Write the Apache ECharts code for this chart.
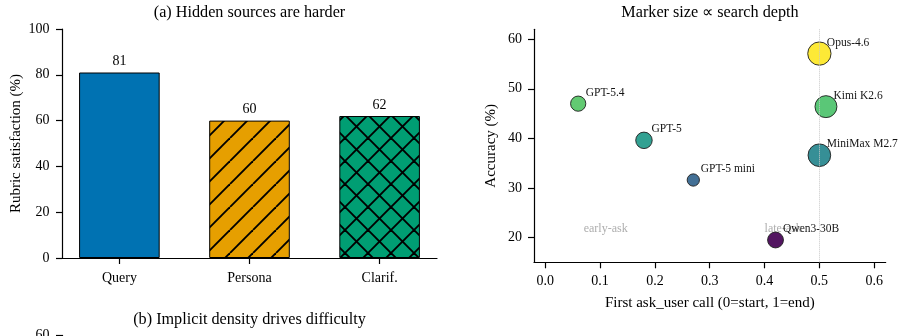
<!DOCTYPE html>
<html>
<head>
<meta charset="utf-8">
<script src="https://cdn.jsdelivr.net/npm/echarts@6/dist/echarts.min.js"></script>
<style>
  html, body { margin: 0; padding: 0; background: #fff; }
  #chart { width: 905px; height: 336px; }
</style>
</head>
<body>
<div id="chart"></div>
<script>
// ---------- data ----------
const barCategories = ['Query', 'Persona', 'Clarif.'];
const barValues = [81, 60, 62];
const barTicks = [0, 20, 40, 60, 80, 100];

const modelNames = ['Opus-4.6', 'Kimi K2.6', 'MiniMax M2.7', 'GPT-5.4', 'GPT-5', 'GPT-5 mini', 'Qwen3-30B'];
const firstAsk = [0.50, 0.512, 0.50, 0.06, 0.18, 0.27, 0.42];
const accuracy = [57.1, 46.4, 36.6, 47.0, 39.6, 31.6, 19.5];
const searchDepth = [54, 48, 51, 23, 27, 15, 25];
const scatterXTicks = [0.0, 0.1, 0.2, 0.3, 0.4, 0.5, 0.6];
const scatterYTicks = [20, 30, 40, 50, 60];
const regionNotes = [['early-ask', 0.07, 21.7], ['late-ask', 0.40, 21.7]];
const splitX = 0.5;

const panelBTicks = [0, 20, 40, 60];

// ---------- styling helpers ----------
const FONT = "'Liberation Serif', 'Times New Roman', serif";
const viridis = ['#440154', '#482475', '#414487', '#355f8d', '#2a788e', '#21918c',
                 '#22a884', '#44bf70', '#7ad151', '#bddf26', '#fde725'];

function hatch(bg, cross, s) {
  const c = document.createElement('canvas');
  c.width = s; c.height = s;
  const g = c.getContext('2d');
  g.fillStyle = bg; g.fillRect(0, 0, s, s);
  g.strokeStyle = '#000'; g.lineWidth = 1.9;
  for (const k of [-s, 0, s]) {
    g.beginPath(); g.moveTo(k, s); g.lineTo(k + s, 0); g.stroke();
    if (cross) { g.beginPath(); g.moveTo(k, 0); g.lineTo(k + s, s); g.stroke(); }
  }
  return c;
}
const barFills = [
  '#0072b2',
  { image: hatch('#e69f00', false, 23), repeat: 'repeat' },
  { image: hatch('#009e73', true, 23), repeat: 'repeat' }
];

const axisLineStyle = { color: '#000', width: 1.2 };
const tickLbl = { color: '#000', fontFamily: FONT, fontSize: 14 };
const nameStyle = { color: '#000', fontFamily: FONT, fontSize: 15 };
const titleStyle = { fontFamily: FONT, fontSize: 16.2, fontWeight: 'normal', color: '#000' };

const chart = echarts.init(document.getElementById('chart'), null, { renderer: 'canvas' });

const option = {
  backgroundColor: '#fff',
  animation: false,
  title: [
    { text: '(a) Hidden sources are harder', left: 249.5, top: 5, padding: 0, textAlign: 'center', textStyle: titleStyle },
    { text: 'Marker size \u221d search depth', left: 710, top: 5, padding: 0, textAlign: 'center', textStyle: titleStyle },
    { text: '(b) Implicit density drives difficulty', left: 249.5, top: 311.5, padding: 0, textAlign: 'center', textStyle: titleStyle }
  ],
  grid: [
    { left: 62, top: 29, width: 375, height: 229, containLabel: false },
    { left: 534, top: 29.3, width: 351.7, height: 233, containLabel: false },
    { left: 62, top: 335.3, width: 375, height: 229, containLabel: false }
  ],
  xAxis: [
    { gridIndex: 0, type: 'value', min: -0.441, max: 2.441,
      axisLine: { show: true, onZero: false, lineStyle: axisLineStyle },
      axisTick: { show: true, length: 6, lineStyle: axisLineStyle, customValues: [0, 1, 2] },
      axisLabel: Object.assign({ margin: 13, customValues: [0, 1, 2],
        formatter: v => barCategories[Math.round(v)] }, tickLbl),
      splitLine: { show: false } },
    { gridIndex: 1, type: 'value', min: -0.0206, max: 0.621,
      name: 'First ask_user call (0=start, 1=end)', nameLocation: 'middle', nameGap: 33,
      nameTextStyle: nameStyle,
      axisLine: { show: true, onZero: false, lineStyle: axisLineStyle },
      axisTick: { show: true, length: 6, lineStyle: axisLineStyle, customValues: scatterXTicks },
      axisLabel: Object.assign({ margin: 12.5, customValues: scatterXTicks,
        formatter: v => v.toFixed(1) }, tickLbl),
      splitLine: { show: false } },
    { gridIndex: 2, type: 'value', min: 0, max: 1, show: false }
  ],
  yAxis: [
    { gridIndex: 0, type: 'value', min: 0, max: 100, interval: 20,
      name: 'Rubric satisfaction (%)', nameLocation: 'middle', nameGap: 38,
      nameTextStyle: nameStyle,
      axisLine: { show: true, onZero: false, lineStyle: axisLineStyle },
      axisTick: { show: true, length: 6, lineStyle: axisLineStyle },
      axisLabel: Object.assign({ margin: 12.5 }, tickLbl),
      splitLine: { show: false } },
    { gridIndex: 1, type: 'value', min: 15, max: 62,
      name: 'Accuracy (%)', nameLocation: 'middle', nameGap: 35,
      nameTextStyle: nameStyle,
      axisLine: { show: true, onZero: false, lineStyle: axisLineStyle },
      axisTick: { show: true, length: 6, lineStyle: axisLineStyle, customValues: scatterYTicks },
      axisLabel: Object.assign({ margin: 12, customValues: scatterYTicks }, tickLbl),
      splitLine: { show: false } },
    { gridIndex: 2, type: 'value', min: 0, max: 60, interval: 20,
      axisLine: { show: true, onZero: false, lineStyle: axisLineStyle },
      axisTick: { show: true, length: 6, lineStyle: axisLineStyle, customValues: panelBTicks },
      axisLabel: Object.assign({ margin: 12.5, customValues: panelBTicks }, tickLbl),
      splitLine: { show: false } }
  ],
  visualMap: {
    show: false, type: 'continuous', seriesIndex: 1, dimension: 1,
    min: Math.min(...accuracy), max: Math.max(...accuracy),
    inRange: { color: viridis }
  },
  series: [
    {
      type: 'bar', xAxisIndex: 0, yAxisIndex: 0, barWidth: 80.6,
      data: barValues.map((v, i) => ({
        value: [i, v],
        itemStyle: { color: barFills[i], borderColor: '#000', borderWidth: 1 }
      })),
      label: { show: true, position: 'top', distance: 4, color: '#000',
        fontFamily: FONT, fontSize: 14, formatter: p => p.value[1] }
    },
    {
      type: 'scatter', xAxisIndex: 1, yAxisIndex: 1,
      data: modelNames.map((n, i) => ({ name: n, value: [firstAsk[i], accuracy[i], searchDepth[i]] })),
      symbolSize: v => Math.sqrt(v[2]) * 3.17,
      itemStyle: { opacity: 0.92, borderColor: '#222', borderWidth: 1 },
      label: { show: true, position: 'inside', align: 'left', verticalAlign: 'middle',
        offset: [7.5, -11], color: '#000', fontFamily: FONT, fontSize: 11.5,
        formatter: p => p.name },
      markLine: {
        silent: true, symbol: 'none', z: 10,
        lineStyle: { color: '#c8c8c8', type: 'dotted', width: 1 },
        label: { show: false },
        data: [{ xAxis: splitX }]
      },
      z: 3
    },
    {
      type: 'scatter', xAxisIndex: 1, yAxisIndex: 1, symbolSize: 0,
      data: regionNotes.map(r => ({ name: r[0], value: [r[1], r[2]] })),
      label: { show: true, position: 'inside', align: 'left', verticalAlign: 'middle',
        color: '#999', fontFamily: FONT, fontSize: 12, formatter: p => p.name },
      z: 2
    }
  ]
};
chart.setOption(option);
</script>
</body>
</html>
